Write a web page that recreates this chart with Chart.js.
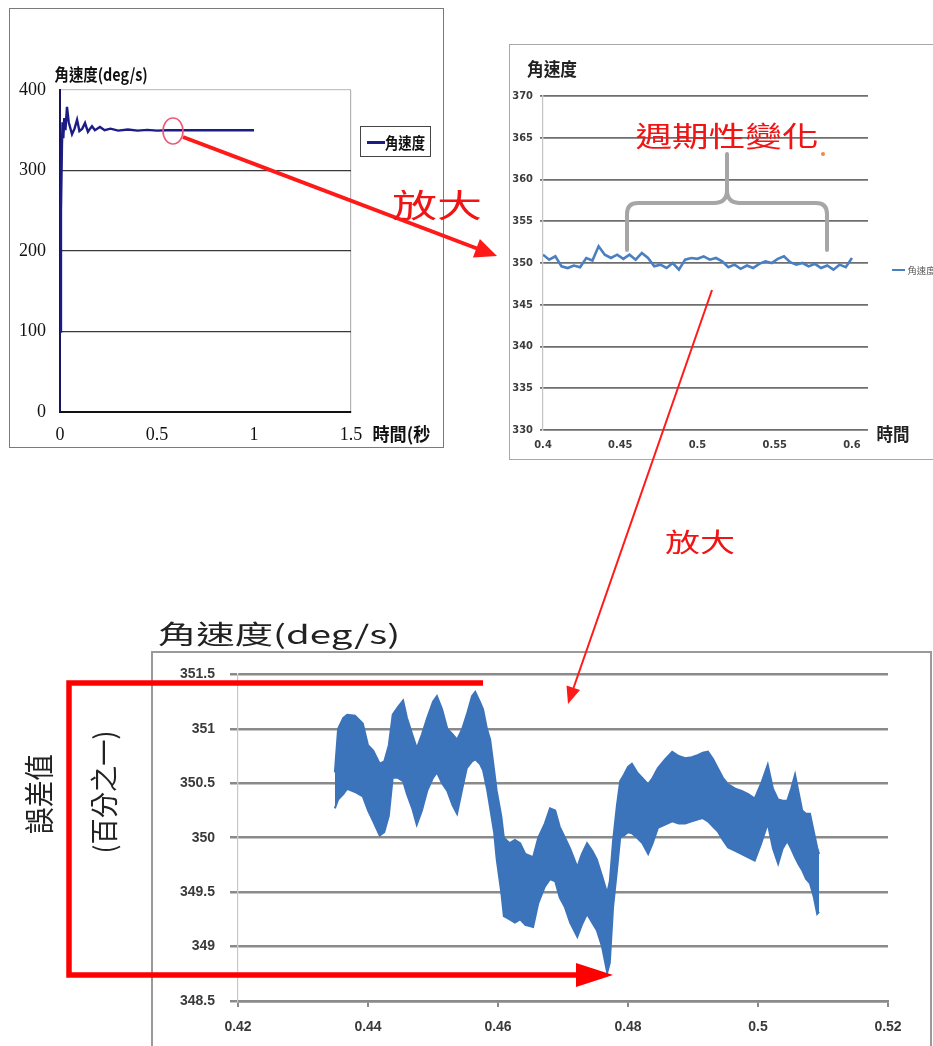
<!DOCTYPE html>
<html>
<head>
<meta charset="utf-8">
<script src="https://cdn.jsdelivr.net/npm/chart.js@4.4.1/dist/chart.umd.min.js"></script>
<style>
html, body { margin: 0; padding: 0; background: #fff; }
#page { position: relative; width: 933px; height: 1046px; overflow: hidden; background: #fff;
        font-family: 'Noto Sans CJK TC', 'Noto Sans CJK SC', sans-serif; }
.box { position: absolute; box-sizing: border-box; }
.cv { position: absolute; }
.lbl { position: absolute; white-space: nowrap; line-height: 1; }
#ann { position: absolute; left: 0; top: 0; pointer-events: none; }
</style>
</head>
<body>
<div id="page">
  <div class="box" style="left:9px;top:8px;width:435px;height:440px;border:1.5px solid #7a7a7a;"></div>
  <div class="box" style="left:509px;top:44px;width:440px;height:416px;border:1.5px solid #a8a8a8;"></div>
  <div class="box" style="left:151px;top:651px;width:781px;height:410px;border:2px solid #9a9a9a;"></div>

  <!-- legend box of the overview chart -->
  <div class="box" style="left:360px;top:126px;width:71px;height:31px;border:1.5px solid #444;"></div>
  <div id="leg1line" class="box" style="left:367px;top:141px;width:18px;height:2.5px;"></div>
  <div id="leg2line" class="box" style="left:892px;top:269px;width:13px;height:2px;"></div>

  <canvas id="c1" class="cv" style="left:0px;top:0px;width:460px;height:460px;" width="460" height="460"></canvas>
  <canvas id="c2" class="cv" style="left:509px;top:45px;width:424px;height:415px;" width="424" height="415"></canvas>
  <canvas id="c3" class="cv" style="left:152px;top:651px;width:781px;height:395px;" width="781" height="395"></canvas>

  <svg id="ann" width="933" height="1046" viewBox="0 0 933 1046">
    <!-- zoom marker on the overview curve -->
    <ellipse cx="173" cy="131" rx="10" ry="13" fill="none" stroke="#ec5a78" stroke-width="1.6"/>
    <!-- thick arrow to the middle chart -->
    <line x1="183" y1="137" x2="477" y2="248.5" stroke="#ff1a1a" stroke-width="4"/>
    <polygon points="497,256 472.9,257.6 479.9,238.9" fill="#ff1a1a"/>
    <!-- curly brace over the periodic part -->
    <path d="M627 250 L627 214 Q627 203 638 203 L714 203 Q727 203 727 190 L727 154 M727 190 Q727 203 740 203 L816 203 Q827 203 827 214 L827 250"
          fill="none" stroke="#a6a6a6" stroke-width="4" stroke-linecap="round"/>
    <circle cx="823" cy="154" r="2" fill="#f5873c"/>
    <!-- thin arrow down to the detail chart -->
    <line x1="712" y1="290" x2="573.5" y2="688" stroke="#ff1a1a" stroke-width="2"/>
    <polygon points="568,704 580,690 566.5,685.5" fill="#ff1a1a"/>
    <!-- error range bracket on the detail chart -->
    <polyline points="483,683 69,683 69,975 580,975" fill="none" stroke="#ff0000" stroke-width="5.5" stroke-linejoin="miter"/>
    <polygon points="576,963 613,975 576,987" fill="#ff0000"/>
  </svg>
</div>

<script>
// ---------------- overview: angular velocity over the whole run ----------------
const overviewTime = [0, 0.005, 0.01, 0.013, 0.017, 0.022, 0.028, 0.036, 0.045, 0.062, 0.075, 0.088, 0.1,
  0.115, 0.129, 0.144, 0.155, 0.165, 0.18, 0.206, 0.23, 0.26, 0.3, 0.35, 0.4, 0.45, 0.5, 0.55, 0.6, 0.8, 1.0];
const overviewSpeed = [100, 250, 330, 360, 340, 365, 350, 379, 360, 345, 352, 363, 349,
  352, 359, 348, 352, 355, 350, 354, 350, 352, 349.5, 351, 349.5, 350.5, 349.5, 350, 350, 350, 350];
const overviewXTicks = [0, 0.5, 1, 1.5];
const overviewXLabels = ['0', '0.5', '1', '1.5'];
const overviewYTicks = [0, 100, 200, 300, 400];
const overviewYLabels = ['0', '100', '200', '300', '400'];

// ---------------- middle: 0.4 s – 0.6 s ----------------
const midTime = [0.400, 0.404, 0.408, 0.412, 0.416, 0.420, 0.424, 0.428, 0.432, 0.436, 0.440, 0.444, 0.448,
  0.452, 0.456, 0.460, 0.464, 0.468, 0.472, 0.476, 0.480, 0.484, 0.488, 0.492, 0.496, 0.500, 0.504, 0.508,
  0.512, 0.516, 0.520, 0.524, 0.528, 0.532, 0.536, 0.540, 0.544, 0.548, 0.552, 0.556, 0.560, 0.564, 0.568,
  0.572, 0.576, 0.580, 0.584, 0.588, 0.592, 0.596, 0.600];
const midSpeed = [351.0, 350.4, 350.8, 349.6, 349.4, 349.7, 349.5, 350.6, 350.3, 352.0, 351.0, 350.6, 351.0,
  350.5, 351.0, 350.4, 351.2, 350.6, 349.6, 349.8, 349.4, 350.0, 349.2, 350.4, 350.6, 350.5, 350.8, 350.4,
  350.6, 350.2, 349.5, 349.8, 349.3, 349.7, 349.4, 349.9, 350.2, 350.0, 350.5, 350.8, 350.1, 349.8, 350.0,
  349.6, 349.9, 349.4, 349.7, 349.2, 349.8, 349.5, 350.6];
const midXTicks = [0.4, 0.45, 0.5, 0.55, 0.6];
const midXLabels = ['0.4', '0.45', '0.5', '0.55', '0.6'];
const midYTicks = [330, 335, 340, 345, 350, 355, 360, 365, 370];
const midYLabels = ['330', '335', '340', '345', '350', '355', '360', '365', '370'];

// ---------------- detail: upper / lower envelope of the sampled signal ----------------
const detailTime = [0.4349, 0.4354, 0.4362, 0.4368, 0.4380, 0.4392, 0.4400, 0.4408, 0.4418, 0.4425, 0.4432,
  0.4438, 0.4446, 0.4454, 0.4460, 0.4468, 0.4475, 0.4483, 0.4491, 0.4500, 0.4506, 0.4514, 0.4522, 0.4530,
  0.4537, 0.4545, 0.4552, 0.4560, 0.4565, 0.4572, 0.4577, 0.4583, 0.4588, 0.4594, 0.4598, 0.4605, 0.4609,
  0.4618, 0.4626, 0.4634, 0.4642, 0.4654, 0.4662, 0.4672, 0.4680, 0.4688, 0.4695, 0.4703, 0.4711, 0.4722,
  0.4729, 0.4737, 0.4745, 0.4752, 0.4760, 0.4768, 0.4772, 0.4777, 0.4783, 0.4788, 0.4794, 0.4800, 0.4806,
  0.4814, 0.4822, 0.4831, 0.4838, 0.4846, 0.4857, 0.4868, 0.4878, 0.4888, 0.4898, 0.4908, 0.4915, 0.4923,
  0.4931, 0.4938, 0.4946, 0.4954, 0.4965, 0.4975, 0.4985, 0.4995, 0.5005, 0.5015, 0.5023, 0.5031, 0.5038,
  0.5045, 0.5051, 0.5057, 0.5063, 0.5068, 0.5074, 0.5080, 0.5086, 0.5091, 0.5094];
const detailUpper = [350.60, 351.00, 351.10, 351.13, 351.12, 351.05, 350.85, 350.80, 350.68, 350.70, 350.85,
  351.13, 351.20, 351.26, 351.10, 350.95, 350.82, 350.95, 351.10, 351.25, 351.30, 351.18, 351.00, 350.95,
  350.90, 351.00, 351.13, 351.30, 351.34, 351.25, 351.18, 351.00, 350.90, 350.62, 350.43, 350.20, 350.00,
  349.95, 349.98, 349.95, 349.85, 349.82, 350.00, 350.13, 350.27, 350.25, 350.10, 350.00, 349.90, 349.73,
  349.85, 349.95, 349.88, 349.80, 349.65, 349.49, 349.60, 349.97, 350.30, 350.52, 350.58, 350.65, 350.68,
  350.60, 350.55, 350.49, 350.55, 350.64, 350.72, 350.79, 350.75, 350.73, 350.74, 350.76, 350.78, 350.79,
  350.72, 350.64, 350.55, 350.49, 350.45, 350.43, 350.40, 350.36, 350.50, 350.67, 350.45, 350.35, 350.34,
  350.34, 350.45, 350.58, 350.40, 350.25, 350.22, 350.22, 350.05, 349.91, 349.85];
const detailLower = [350.27, 350.35, 350.40, 350.45, 350.42, 350.38, 350.25, 350.15, 350.02, 350.05, 350.20,
  350.55, 350.55, 350.52, 350.40, 350.27, 350.12, 350.25, 350.43, 350.55, 350.60, 350.50, 350.43, 350.30,
  350.22, 350.45, 350.64, 350.70, 350.72, 350.68, 350.62, 350.45, 350.27, 350.05, 349.80, 349.50, 349.28,
  349.25, 349.22, 349.25, 349.20, 349.18, 349.40, 349.55, 349.62, 349.60, 349.45, 349.36, 349.22, 349.09,
  349.20, 349.30, 349.22, 349.15, 349.00, 348.76, 348.85, 349.36, 349.70, 350.00, 350.02, 350.05, 350.04,
  350.00, 349.95, 349.85, 349.95, 350.09, 350.12, 350.15, 350.13, 350.13, 350.15, 350.17, 350.18, 350.15,
  350.10, 350.06, 349.98, 349.91, 349.88, 349.85, 349.82, 349.79, 349.95, 350.13, 349.90, 349.76, 349.90,
  349.97, 349.90, 349.82, 349.75, 349.70, 349.62, 349.58, 349.45, 349.30, 349.32];
const detailXTicks = [0.42, 0.44, 0.46, 0.48, 0.5, 0.52];
const detailXLabels = ['0.42', '0.44', '0.46', '0.48', '0.5', '0.52'];
const detailYTicks = [348.5, 349, 349.5, 350, 350.5, 351, 351.5];
const detailYLabels = ['348.5', '349', '349.5', '350', '350.5', '351', '351.5'];

const seriesName = '角速度';
const navy = '#1c1c86';
const blue = '#4a7fc1';
const bandBlue = '#3c74bb';

document.getElementById('leg1line').style.background = navy;
document.getElementById('leg2line').style.background = blue;

const pts = (xs, ys) => xs.map((x, i) => ({ x, y: ys[i] }));
const fixed = (values, labels) => ({
  afterBuildTicks: s => { s.ticks = values.map(v => ({ value: v })); },
  callback: (v, i) => labels[i]
});

const base = {
  responsive: false,
  animation: false,
  events: [],
  plugins: { legend: { display: false }, tooltip: { enabled: false }, title: { display: false } }
};

// overview chart
{
  const fx = fixed(overviewXTicks, overviewXLabels), fy = fixed(overviewYTicks, overviewYLabels);
  const serif = { family: "'Liberation Serif', 'DejaVu Serif', serif", size: 18 };
  new Chart(document.getElementById('c1'), {
    type: 'line',
    data: { datasets: [{ label: seriesName, data: pts(overviewTime, overviewSpeed), borderColor: navy,
      borderWidth: 2.4, pointRadius: 0, tension: 0, fill: false }] },
    options: Object.assign({}, base, {
      layout: { padding: { left: 0, top: 90, right: 109, bottom: 0 } },
      scales: {
        x: { type: 'linear', min: 0, max: 1.5, afterBuildTicks: fx.afterBuildTicks,
          afterFit: s => { s.height = 48; },
          grid: { drawTicks: false, lineWidth: 1.2, color: c => c.tick && c.tick.value === 1.5 ? '#b4b4b4' : 'rgba(0,0,0,0)' },
          border: { display: true, color: '#111', width: 2 },
          ticks: { callback: fx.callback, padding: 12, color: '#111', font: serif, maxRotation: 0, autoSkip: false } },
        y: { type: 'linear', min: 0, max: 400, afterBuildTicks: fy.afterBuildTicks,
          afterFit: s => { s.width = 60; },
          grid: { drawTicks: false, lineWidth: 1.2,
            color: c => c.tick && c.tick.value === 400 ? '#c4c4c4' : (c.tick && c.tick.value === 0 ? 'rgba(0,0,0,0)' : '#3a3a3a') },
          border: { display: true, color: '#151560', width: 2 },
          ticks: { callback: fy.callback, padding: 14, color: '#111', font: serif, autoSkip: false } }
      }
    })
  });
}

// middle chart
{
  const fx = fixed(midXTicks, midXLabels), fy = fixed(midYTicks, midYLabels);
  const small = { family: "'Liberation Sans Narrow', 'DejaVu Sans Condensed', sans-serif", size: 11, weight: 'bold' };
  new Chart(document.getElementById('c2'), {
    type: 'line',
    data: { datasets: [{ label: seriesName, data: pts(midTime, midSpeed), borderColor: blue,
      borderWidth: 2.6, pointRadius: 0, tension: 0, fill: false }] },
    options: Object.assign({}, base, {
      layout: { padding: { left: 0, top: 51, right: 65, bottom: 0 } },
      scales: {
        x: { type: 'linear', min: 0.4, max: 0.6104, afterBuildTicks: fx.afterBuildTicks,
          afterFit: s => { s.height = 30; },
          grid: { display: false, drawTicks: false },
          border: { display: false },
          ticks: { callback: fx.callback, padding: 9, color: '#3c3c3c', font: small, maxRotation: 0, autoSkip: false } },
        y: { type: 'linear', min: 330, max: 370, afterBuildTicks: fy.afterBuildTicks,
          afterFit: s => { s.width = 34; },
          grid: { color: '#6e6e6e', lineWidth: 1.8, drawTicks: true, tickLength: 3 },
          border: { display: true, color: '#c4c4c4', width: 1.2 },
          ticks: { callback: fy.callback, padding: 7, color: '#3c3c3c', font: small, autoSkip: false } }
      }
    })
  });
}

// detail chart: filled band between the envelopes
{
  const fx = fixed(detailXTicks, detailXLabels), fy = fixed(detailYTicks, detailYLabels);
  const tickFont = { family: "'Liberation Sans', 'DejaVu Sans', sans-serif", size: 14, weight: 'bold' };
  new Chart(document.getElementById('c3'), {
    type: 'line',
    data: { datasets: [
      { label: seriesName, data: pts(detailTime, detailUpper), borderColor: bandBlue, borderWidth: 2,
        pointRadius: 0, tension: 0, fill: false },
      { label: seriesName, data: pts(detailTime, detailLower), borderColor: bandBlue, borderWidth: 2,
        pointRadius: 0, tension: 0, fill: '-1', backgroundColor: bandBlue }
    ] },
    options: Object.assign({}, base, {
      layout: { padding: { left: 0, top: 20, right: 45, bottom: 0 } },
      scales: {
        x: { type: 'linear', min: 0.42, max: 0.52, afterBuildTicks: fx.afterBuildTicks,
          afterFit: s => { s.height = 45; },
          grid: { display: true, drawOnChartArea: false, drawTicks: true, tickLength: 6, color: '#8a8a8a', lineWidth: 2 },
          border: { display: true, color: '#8a8a8a', width: 2.5 },
          ticks: { callback: fx.callback, padding: 12, color: '#3a3a3a', font: tickFont, maxRotation: 0, autoSkip: false } },
        y: { type: 'linear', min: 348.5, max: 351.5, afterBuildTicks: fy.afterBuildTicks,
          afterFit: s => { s.width = 86; },
          grid: { color: '#8a8a8a', lineWidth: 2.5, drawTicks: true, tickLength: 8 },
          border: { display: true, color: '#c8c8c8', width: 1.2 },
          ticks: { callback: fy.callback, padding: 15, color: '#3a3a3a', font: tickFont, autoSkip: false } }
      }
    })
  });
}

// captions and notes, each stretched to its measured width
const page = document.getElementById('page');
const notes = [];
function note(txt, o) {
  const d = document.createElement('div');
  d.className = 'lbl';
  d.textContent = txt;
  d.style.fontFamily = o.family || "'Noto Sans CJK TC', 'Noto Sans CJK SC', sans-serif";
  d.style.fontSize = o.size + 'px';
  d.style.fontWeight = o.weight || 'normal';
  d.style.color = o.color || '#111';
  page.appendChild(d);
  notes.push([d, o]);
}
function layoutNotes() {
  for (const [d, o] of notes) {
    d.style.transform = 'none';
    const w = d.offsetWidth, h = d.offsetHeight;
    const sx = o.w ? o.w / w : 1;
    d.style.left = (o.cx - w / 2) + 'px';
    d.style.top = (o.cy - h / 2) + 'px';
    d.style.transformOrigin = '50% 50%';
    d.style.transform = (o.rot ? 'rotate(' + o.rot + 'deg) ' : '') + 'scaleX(' + sx + ')';
  }
}
note('角速度(deg/s)', { cx: 101, cy: 73, w: 93, size: 17, weight: 'bold' });
note('時間(秒', { cx: 401, cy: 433, w: 58, size: 18, weight: 'bold' });
note(seriesName, { cx: 405, cy: 142, w: 40, size: 16, weight: 'bold' });
note('放大', { cx: 437, cy: 203, w: 90, size: 32, color: '#f01414' });
note('角速度', { cx: 552, cy: 68, w: 50, size: 18, weight: 'bold', color: '#222' });
note('時間', { cx: 893, cy: 433, w: 33, size: 18, weight: 'bold', color: '#222' });
note(seriesName, { cx: 921, cy: 270, w: 28, size: 9, color: '#555' });
note('週期性變化', { cx: 727, cy: 135, w: 183, size: 28, color: '#f01414' });
note('放大', { cx: 700, cy: 541, w: 70, size: 26, color: '#f01414' });
note('角速度(deg/s)', { cx: 279, cy: 633, w: 242, size: 26, color: '#222' });
note('誤差值', { cx: 37, cy: 794, w: 80, size: 30, color: '#222', rot: -90 });
note('(百分之一)', { cx: 103, cy: 792, w: 123, size: 28, color: '#222', rot: -90 });
layoutNotes();
if (document.fonts && document.fonts.ready) document.fonts.ready.then(layoutNotes);
</script>
</body>
</html>
